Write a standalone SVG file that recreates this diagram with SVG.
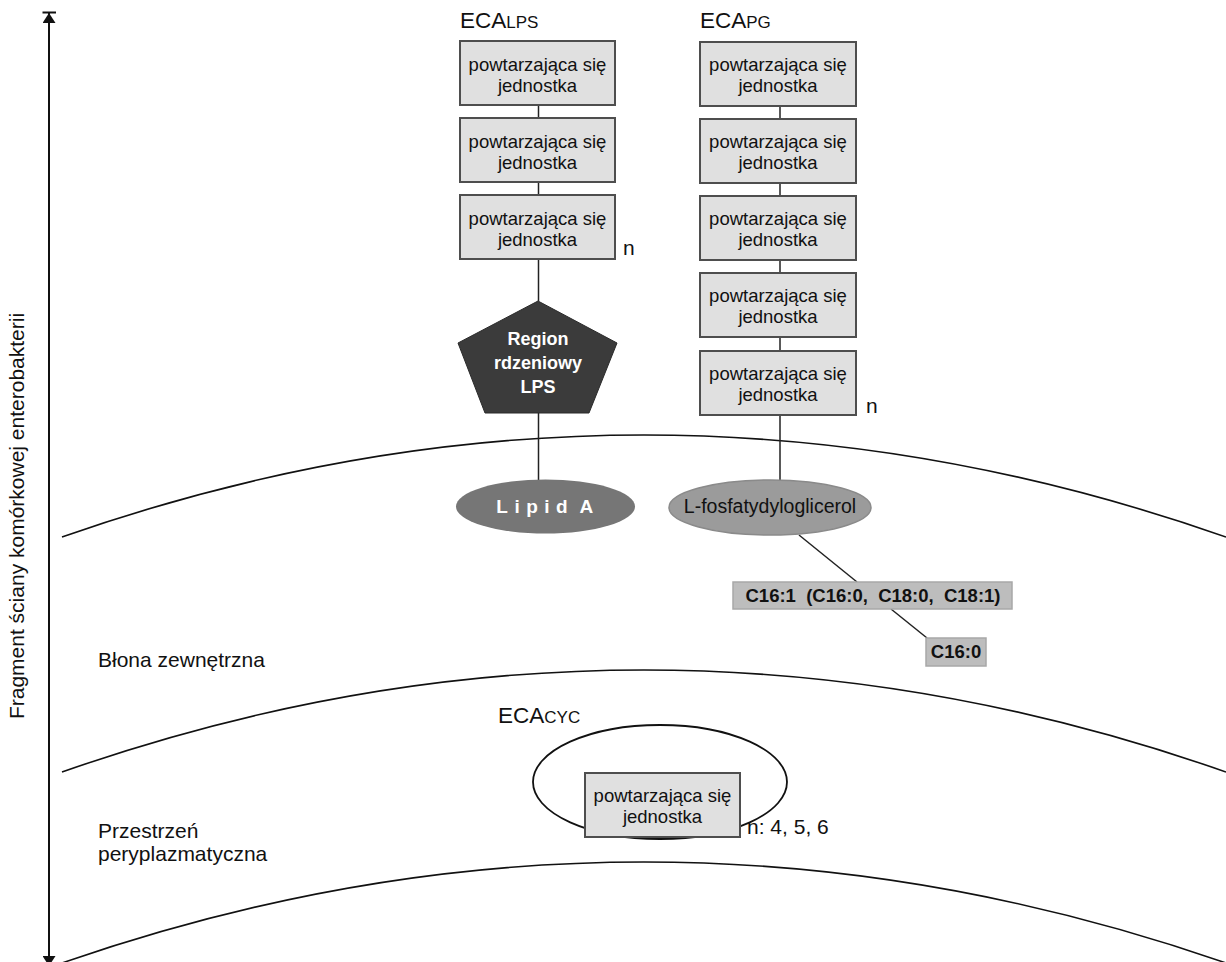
<svg xmlns="http://www.w3.org/2000/svg" width="1226" height="962" viewBox="0 0 1226 962">
<style>
text{font-family:"Liberation Sans",Arial,sans-serif;fill:#111}
.box{fill:#e0e0e0;stroke:#4e4e4e;stroke-width:2}
.bt{font-size:18.5px;text-anchor:middle}
.lbl{font-size:21px}
.ttl{font-size:22.5px}
.sc{font-size:17px}
.conn{stroke:#222;stroke-width:1.5;fill:none}
.mem{stroke:#111;stroke-width:1.6;fill:none}
.fa{fill:#bdbdbd;stroke:#a8a8a8;stroke-width:1.5}
.fat{font-size:18.5px;font-weight:bold;text-anchor:middle}
.wb{fill:#fff;font-weight:bold;text-anchor:middle}
</style>
<defs>
<marker id="ah" viewBox="0 0 10 13" refX="10" refY="6.5" markerWidth="10" markerHeight="13" markerUnits="userSpaceOnUse" orient="auto-start-reverse">
<path d="M0,0 L10,6.5 L0,13 z" fill="#111"/>
</marker>
</defs>
<rect x="0" y="0" width="1226" height="962" fill="#fff"/>

<g id="axis">
<line x1="49" y1="13" x2="49" y2="966" stroke="#111" stroke-width="2" marker-start="url(#ah)" marker-end="url(#ah)"/>
<line x1="42.5" y1="12.5" x2="56" y2="12.5" stroke="#111" stroke-width="2"/>
<text class="lbl" transform="translate(24,516) rotate(-90)" text-anchor="middle">Fragment ściany komórkowej enterobakterii</text>
</g>

<g id="membranes">
<path class="mem" d="M62,537 Q644,333 1226,537"/>
<path class="mem" d="M62,772 Q644,568 1226,772"/>
<path class="mem" d="M62,963 Q644,761 1226,963"/>
</g>

<g id="labels">
<text class="ttl" x="460" y="28">ECA<tspan class="sc">LPS</tspan></text>
<text class="ttl" x="700" y="28">ECA<tspan class="sc">PG</tspan></text>
<text class="ttl" x="498" y="723">ECA<tspan class="sc">CYC</tspan></text>
<text class="lbl" x="98" y="667">Błona zewnętrzna</text>
<text class="lbl" x="98" y="838">Przestrzeń</text>
<text class="lbl" x="98" y="861">peryplazmatyczna</text>
<text class="lbl" x="623" y="255">n</text>
<text class="lbl" x="866" y="413">n</text>
<text class="lbl" x="747" y="834">n: 4, 5, 6</text>
</g>

<g id="connectors">
<line class="conn" x1="538.5" y1="105" x2="538.5" y2="118"/>
<line class="conn" x1="538.5" y1="182" x2="538.5" y2="195"/>
<line class="conn" x1="538.5" y1="259" x2="538.5" y2="301"/>
<line class="conn" x1="538.5" y1="413" x2="538.5" y2="480"/>
<line class="conn" x1="780" y1="106" x2="780" y2="119"/>
<line class="conn" x1="780" y1="183" x2="780" y2="196"/>
<line class="conn" x1="780" y1="260" x2="780" y2="273"/>
<line class="conn" x1="780" y1="337" x2="780" y2="351"/>
<line class="conn" x1="780" y1="415" x2="780" y2="480"/>
<line class="conn" x1="799" y1="535" x2="857" y2="582"/>
<line class="conn" x1="891" y1="609" x2="927" y2="638"/>
</g>

<g id="lps-unit-1"><rect class="box" x="460" y="41" width="155" height="64"/><text class="bt" x="537.5" y="71">powtarzająca się</text><text class="bt" x="537.5" y="92">jednostka</text></g>
<g id="lps-unit-2"><rect class="box" x="460" y="118" width="155" height="64"/><text class="bt" x="537.5" y="148">powtarzająca się</text><text class="bt" x="537.5" y="169">jednostka</text></g>
<g id="lps-unit-3"><rect class="box" x="460" y="195" width="155" height="64"/><text class="bt" x="537.5" y="225">powtarzająca się</text><text class="bt" x="537.5" y="246">jednostka</text></g>

<g id="core-lps">
<polygon points="538,301 617,343 589,413 485,413 458,343" fill="#3b3b3b" stroke="#2a2a2a" stroke-width="1"/>
<text class="wb" x="538" y="345" font-size="18">Region</text>
<text class="wb" x="538" y="369" font-size="18">rdzeniowy</text>
<text class="wb" x="538" y="393" font-size="18">LPS</text>
</g>

<g id="lipid-a">
<ellipse cx="545.5" cy="506.5" rx="89.5" ry="27" fill="#767676"/>
<text class="wb" x="548" y="513" font-size="19" letter-spacing="6.5"><tspan>Lipid</tspan><tspan letter-spacing="0"> </tspan><tspan>A</tspan></text>
</g>

<g id="pg-unit-1"><rect class="box" x="700" y="42" width="156" height="64"/><text class="bt" x="778" y="71">powtarzająca się</text><text class="bt" x="778" y="92">jednostka</text></g>
<g id="pg-unit-2"><rect class="box" x="700" y="119" width="156" height="64"/><text class="bt" x="778" y="148">powtarzająca się</text><text class="bt" x="778" y="169">jednostka</text></g>
<g id="pg-unit-3"><rect class="box" x="700" y="196" width="156" height="64"/><text class="bt" x="778" y="225">powtarzająca się</text><text class="bt" x="778" y="246">jednostka</text></g>
<g id="pg-unit-4"><rect class="box" x="700" y="273" width="156" height="64"/><text class="bt" x="778" y="302">powtarzająca się</text><text class="bt" x="778" y="323">jednostka</text></g>
<g id="pg-unit-5"><rect class="box" x="700" y="351" width="156" height="64"/><text class="bt" x="778" y="380">powtarzająca się</text><text class="bt" x="778" y="401">jednostka</text></g>

<g id="l-pg">
<ellipse cx="770" cy="507.5" rx="101" ry="27.5" fill="#9b9b9b" stroke="#8a8a8a" stroke-width="1.5"/>
<text x="770" y="513" font-size="19.5" text-anchor="middle">L-fosfatydyloglicerol</text>
</g>

<g id="fa-1">
<rect class="fa" x="733" y="582" width="279" height="27"/>
<text class="fat" x="873" y="602" xml:space="preserve">C16:1  (C16:0,  C18:0,  C18:1)</text>
</g>
<g id="fa-2">
<rect class="fa" x="926" y="638" width="60" height="28"/>
<text class="fat" x="956" y="658">C16:0</text>
</g>

<g id="eca-cyc">
<ellipse cx="660" cy="782" rx="127" ry="57" fill="none" stroke="#111" stroke-width="1.8"/>
<rect class="box" x="585" y="773" width="155" height="64"/>
<text class="bt" x="662.5" y="802">powtarzająca się</text>
<text class="bt" x="662.5" y="823">jednostka</text>
</g>
</svg>
